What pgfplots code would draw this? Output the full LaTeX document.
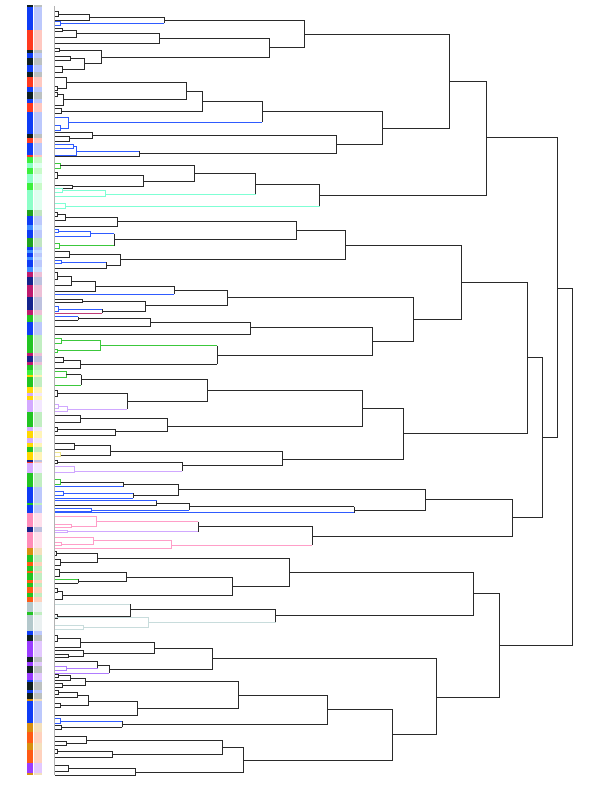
\documentclass[border=0pt]{standalone}
\usepackage{pgfplots}
\pgfplotsset{compat=1.18}

% line colours of the tree
\definecolor{dg}{HTML}{2A2A2A}
\definecolor{bl}{HTML}{2F5BFF}
\definecolor{cy}{HTML}{7FFFD4}
\definecolor{gr}{HTML}{3CC83C}
\definecolor{pk}{HTML}{FF9EC8}
\definecolor{lv}{HTML}{D0A8FF}
\definecolor{pu}{HTML}{B07CFF}
\definecolor{gy}{HTML}{C8DCDC}
\definecolor{yl}{HTML}{F0E68C}
\definecolor{mg}{HTML}{C03C78}
% strip colours
\definecolor{cB}{HTML}{0F3CF5}
\definecolor{cR}{HTML}{FF3A1F}
\definecolor{cK}{HTML}{102020}
\definecolor{cLi}{HTML}{3CF03C}
\definecolor{cMi}{HTML}{8CFFC8}
\definecolor{cDG}{HTML}{1FA21F}
\definecolor{cLB}{HTML}{3C8CFF}
\definecolor{cMg}{HTML}{BE1A6E}
\definecolor{cNv}{HTML}{14238C}
\definecolor{cG}{HTML}{22C422}
\definecolor{cY}{HTML}{FFD800}
\definecolor{cLv}{HTML}{D4AAFF}
\definecolor{cPk}{HTML}{FF8CB9}
\definecolor{cOc}{HTML}{D8900F}
\definecolor{cOr}{HTML}{FF5A14}
\definecolor{cGB}{HTML}{B4C8CC}
\definecolor{cPu}{HTML}{9A3CFF}

% one merge: [colour]{x top child}{y top}{x merge}{x bottom child}{y bottom}
\newcommand{\lk}[6][dg]{\addplot[#1] coordinates {(#2,#3) (#4,#3) (#4,#6) (#5,#6)};}
% merge with own colours: {vertical}{x1}{y1}{xm}{x2}{y2}{top}{bottom}
\newcommand{\lkc}[8]{%
  \addplot[#7] coordinates {(#2,#3) (#4,#3)};
  \addplot[#1] coordinates {(#4,#3) (#4,#6)};
  \addplot[#8] coordinates {(#4,#6) (#5,#6)};}
% one cell of the two label columns
\newcommand{\st}[3]{%
  \addplot[fill=#1,draw=none] coordinates {(27,#2) (32.5,#2) (32.5,#3) (27,#3)};
  \addplot[fill=#1!28,draw=none] coordinates {(34,#2) (42,#2) (42,#3) (34,#3)};}

\begin{document}
\begin{tikzpicture}
\begin{axis}[
  scale only axis, width=600bp, height=786bp,
  xmin=0, xmax=600, ymin=0, ymax=786, y dir=reverse,
  hide axis, clip=false,
  every axis plot/.append style={line width=0.9bp},
]
\addplot[draw=none] coordinates {(0,0) (600,786)};

% ---- label columns
\st{cK}{5}{6.7}
\st{cB}{6.7}{30}
\st{cR}{30}{50}
\st{cK}{50}{53.3}
\st{cB}{53.3}{58}
\st{cK}{58}{65}
\st{cB}{65}{71.7}
\st{cK}{71.7}{77.3}
\st{cR}{77.3}{87.3}
\st{cB}{87.3}{92}
\st{cK}{92}{99}
\st{cB}{99}{103}
\st{cR}{103}{111.7}
\st{cB}{111.7}{134.3}
\st{cK}{134.3}{138.3}
\st{cR}{138.3}{143.3}
\st{cB}{143.3}{155}
\st{cR}{155}{156.7}
\st{cLi}{156.7}{163.3}
\st{cMi}{163.3}{168.3}
\st{cLi}{168.3}{174.3}
\st{cMi}{174.3}{183.3}
\st{cLi}{183.3}{190}
\st{cMi}{190}{210}
\st{cDG}{210}{215.7}
\st{cB}{215.7}{225}
\st{cLB}{225}{230}
\st{cB}{230}{238.3}
\st{cDG}{238.3}{246.7}
\st{cB}{246.7}{250}
\st{cLB}{250}{253.3}
\st{cB}{253.3}{256.7}
\st{cLB}{256.7}{260}
\st{cB}{260}{266.7}
\st{cLB}{266.7}{271.7}
\st{cMg}{271.7}{276.7}
\st{cNv}{276.7}{285}
\st{cMg}{285}{296.7}
\st{cNv}{296.7}{310}
\st{cMg}{310}{315}
\st{cG}{315}{321.7}
\st{cB}{321.7}{335}
\st{cG}{335}{353.3}
\st{cMg}{353.3}{356}
\st{cNv}{356}{361.7}
\st{cMg}{361.7}{365}
\st{cG}{365}{370}
\st{cLi}{370}{375}
\st{cY}{375}{376.7}
\st{cG}{376.7}{386.7}
\st{cY}{386.7}{393}
\st{cLv}{393}{396}
\st{cY}{396}{400}
\st{cLv}{400}{411.7}
\st{cG}{411.7}{426.7}
\st{cLv}{426.7}{431}
\st{cY}{431}{438.3}
\st{cLv}{438.3}{443}
\st{cY}{443}{446.7}
\st{cG}{446.7}{451.7}
\st{cY}{451.7}{460}
\st{cNv}{460}{461.7}
\st{cR}{461.7}{463}
\st{cLv}{463}{473.3}
\st{cG}{473.3}{486.7}
\st{cB}{486.7}{502.5}
\st{cG}{502.5}{505}
\st{cB}{505}{513.3}
\st{cPk}{513.3}{526.7}
\st{cNv}{526.7}{531.7}
\st{cPk}{531.7}{548.3}
\st{cOc}{548.3}{555}
\st{cG}{555}{561.7}
\st{cOr}{561.7}{565.7}
\st{cG}{565.7}{570.7}
\st{cOr}{570.7}{572.7}
\st{cG}{572.7}{580}
\st{cOr}{580}{582.7}
\st{cG}{582.7}{587.3}
\st{cOr}{587.3}{593.3}
\st{cG}{593.3}{596.7}
\st{cOr}{596.7}{601.7}
\st{cGB}{601.7}{611.7}
\st{cG}{611.7}{615}
\st{cGB}{615}{631}
\st{cB}{631}{635}
\st{cK}{635}{641}
\st{cPu}{641}{656.7}
\st{cK}{656.7}{662.3}
\st{cPu}{662.3}{665.7}
\st{cK}{665.7}{673.3}
\st{cPu}{673.3}{680}
\st{cB}{680}{682.3}
\st{cK}{682.3}{690}
\st{cB}{690}{693.3}
\st{cK}{693.3}{699}
\st{cOc}{699}{701}
\st{cB}{701}{723.3}
\st{cOc}{723.3}{731.7}
\st{cOr}{731.7}{743.3}
\st{cOc}{743.3}{750}
\st{cOr}{750}{763.3}
\st{cPu}{763.3}{773.3}
\st{cOc}{773.3}{775}

% leaf stubs
\addplot[gray!60, line width=0.8bp] coordinates {(54.5,6) (54.5,775)};

% ---- top block
\lk{55}{11.7}{58.3}{55}{16.7}
\lk{58.3}{14}{89}{55}{20}
\lk[bl]{55}{21}{60}{55}{25.5}
\lkc{dg}{89}{17.3}{164}{60}{23.3}{dg}{bl}
\lk{55}{28.5}{62}{55}{31.5}
\lk{62}{30}{76}{55}{37.3}
\lk{76}{33.3}{159.5}{55}{43.3}
\lk{55}{48.5}{59.3}{55}{51.5}
\lk{55}{56}{70}{55}{60.7}
\lk{55}{66}{62.7}{55}{72}
\lk{70}{58.3}{84.3}{62.7}{69}
\lk{59.3}{50}{101}{84.3}{63.7}
\lk{159.5}{38.3}{269}{101}{57.3}
\lk{164}{20}{304}{269}{47.3}
\lk{55}{86.5}{57}{55}{90}
\lk{55}{77.3}{66}{57}{88.3}
\lk{55}{92}{57}{55}{96}
\lk{57}{94}{63.3}{55}{105}
\lk{66}{82.7}{186}{63.3}{99.3}
\lk{55}{108.5}{61}{55}{113.5}
\lk{186}{91}{202.7}{61}{111}
\lk[bl]{55}{125.5}{60}{55}{130.5}
\lk[bl]{55}{117.3}{68.3}{60}{128}
\lkc{dg}{202.7}{101.3}{262.3}{68.3}{122.3}{dg}{bl}
\lk{55}{136}{69.3}{55}{141}
\lk{55}{132.3}{92.3}{69.3}{138.3}
\lk[bl]{55}{144.3}{73.3}{55}{148.7}
\lk[bl]{73.3}{146.5}{76}{55}{155.5}
\lkc{dg}{76}{151}{139.3}{55}{156.7}{bl}{dg}
\lk{92.3}{135.3}{336.3}{139.3}{153.3}
\lk{262.3}{111.3}{382.3}{336.3}{144.3}
\lk{304}{34}{449}{382.3}{128}

% ---- mint block
\lk[gr]{55}{163.3}{60}{55}{168.5}
\lk{55}{172.3}{57}{55}{178.3}
\lk{55}{185}{72.7}{55}{188.5}
\lk{57}{175.5}{143.3}{72.7}{186.5}
\lk{60}{165.7}{194}{143.3}{181}
\lk[cy]{55}{188.7}{62}{55}{192.3}
\lk[cy]{62}{190.5}{105.7}{55}{196.7}
\lkc{dg}{194}{173.3}{255.7}{105.7}{194.3}{dg}{cy}
\lk[cy]{55}{203.3}{65}{55}{208.3}
\lkc{dg}{255.7}{184}{319.7}{65}{206.3}{dg}{cy}
\lk{449}{81.3}{486.3}{319.7}{195}

% ---- 210-270
\lk{55}{212}{57}{55}{216}
\lk{57}{214}{65}{55}{220}
\lk{65}{217}{117.7}{55}{226.7}
\lk[bl]{55}{229.5}{58}{55}{232.5}
\lk[bl]{58}{231}{90}{55}{236}
\lk[gr]{55}{243}{59.3}{55}{248}
\lkc{dg}{90}{233.5}{114.3}{59.3}{245.5}{bl}{gr}
\lk{117.7}{221.7}{296.3}{114.3}{239.5}
\lk{55}{251.7}{69.3}{55}{257.3}
\lk[bl]{55}{260.7}{61.7}{55}{263.3}
\lkc{dg}{61.7}{262}{106.7}{55}{268}{bl}{dg}
\lk{69.3}{254.5}{120}{106.7}{265}
\lk{296.3}{230.6}{345.3}{120}{259.3}

% ---- 270-370
\lk{55}{272.7}{57}{55}{279.3}
\lk{57}{276.7}{71}{55}{285.7}
\lk{71}{281}{95}{55}{291}
\lkc{dg}{95}{286}{174}{55}{294.3}{dg}{bl}
\lk{55}{299.3}{82.3}{55}{302.7}
\lk[bl]{55}{306.7}{58.7}{55}{311.7}
\lkc{dg}{58.7}{309}{102.3}{55}{313.3}{bl}{mg}
\lk{82.3}{301}{145}{102.3}{311}
\lk{174}{290}{227}{145}{305.3}
\lkc{dg}{55}{316.7}{78.3}{55}{320}{bl}{dg}
\lk{78.3}{318.3}{150.7}{55}{326.7}
\lk{150.7}{322.3}{250.3}{55}{334.3}
\lk{227}{297.7}{413.3}{372.7}{341}
\lk{250.3}{327.3}{372.7}{217}{355}
\lk[gr]{55}{338.3}{61}{55}{343.3}
\lk[gr]{55}{349}{57}{55}{352}
\lk[gr]{61}{340.7}{100}{57}{350.7}
\lk{55}{357.3}{63.3}{55}{362.7}
\lk{63.3}{360}{80}{55}{368}
\lkc{dg}{100}{345.7}{217}{80}{364}{gr}{dg}
\lk{345.3}{245}{461}{413.3}{319.7}

% ---- 370-470
\lk[gr]{55}{371.7}{66}{55}{377.7}
\lkc{dg}{66}{374.7}{81}{55}{385}{dg}{gr}
\lk{55}{390}{57.3}{55}{396.7}
\lk[lv]{55}{404}{58}{55}{408}
\lk[lv]{58}{406}{67.3}{55}{411}
\lkc{dg}{57.3}{393.3}{127.3}{67.3}{409}{dg}{lv}
\lk{81}{379.3}{207.3}{127.3}{401.7}
\lk{55}{415.7}{80.7}{55}{422.3}
\lk{55}{427}{57}{55}{431}
\lk{57}{429.3}{115.7}{55}{435}
\lk{80.7}{418.3}{167.7}{115.7}{431.7}
\lk{207.3}{390.7}{362.7}{167.7}{426}
\lk{55}{443.3}{74.3}{55}{449}
\lk[yl]{55}{452.3}{60.7}{55}{456.7}
\lk{74.3}{445.7}{110}{60.7}{455.7}
\lk{55}{460.5}{57}{55}{463.5}
\lk[lv]{55}{466.7}{74.3}{55}{472.3}
\lkc{dg}{57}{462.3}{182.3}{74.3}{471}{dg}{lv}
\lk{110}{451.3}{282.3}{182.3}{465.7}
\lk{362.7}{408.3}{403.7}{282.3}{459}
\lk{461}{282.3}{527.3}{403.7}{433.3}

% ---- 470-550
\lk[gr]{55}{479.5}{60.7}{55}{484}
\lkc{dg}{60.7}{482.3}{123.3}{55}{486.7}{dg}{bl}
\lk[bl]{55}{491.7}{63.3}{55}{495}
\lkc{dg}{63.3}{493.3}{133.3}{55}{498.3}{bl}{bl}
\lk{123.3}{484.3}{178.3}{133.3}{495.7}
\lkc{dg}{55}{500.5}{156.7}{55}{505.5}{bl}{dg}
\lk[bl]{55}{508.5}{91.7}{55}{511.5}
\lkc{dg}{156.7}{503}{189.3}{91.7}{510}{dg}{bl}
\lkc{dg}{189.3}{506.7}{354}{55}{512.7}{dg}{bl}
\lk{178.3}{489.7}{425.7}{354}{510}
\lk[pk]{55}{524}{71.7}{55}{527.3}
\lk[pk]{55}{516.7}{96}{71.7}{526}
\lk[lv]{55}{530}{67.3}{55}{532.7}
\lkc{dg}{96}{521.7}{198.3}{67.3}{531.7}{pk}{lv}
\lk[pk]{55}{542.3}{61.7}{55}{545.3}
\lk[pk]{55}{537.3}{93.3}{61.7}{544}
\lk[pk]{93.3}{540.3}{171}{55}{548.3}
\lkc{dg}{198.3}{526.3}{312}{171}{545}{dg}{pk}
\lk{425.7}{499.7}{512.7}{312}{536}
\lk{527.3}{357.3}{542.7}{512.7}{517.3}
\lk{486.3}{137.7}{557}{542.7}{437.7}

% ---- 550-630
\lk{55}{551}{56}{55}{555}
\lk{55}{559.5}{60}{55}{565.5}
\lk{56}{553.3}{97.3}{60}{562.7}
\lk{55}{569.3}{59.3}{55}{576}
\lkc{dg}{55}{579.3}{78.3}{55}{583.3}{gr}{dg}
\lk{59.3}{572.7}{126}{78.3}{581.7}
\lk{55}{588}{57.5}{55}{592}
\lk{57.5}{591.7}{62.7}{55}{599.3}
\lk{126}{577}{232.7}{62.7}{595.3}
\lk{97.3}{558.3}{289}{232.7}{586.7}
\lk{55}{614.7}{57}{55}{618.7}
\lkc{dg}{55}{604}{130}{57}{616.7}{gy}{dg}
\lk[gy]{55}{625}{83.3}{55}{629}
\lk[gy]{55}{617.7}{148.3}{83.3}{627}
\lkc{dg}{130}{609}{275.7}{148.3}{622.3}{dg}{gy}
\lk{289}{572.7}{473.3}{275.7}{615.3}

% ---- 630-775
\lk{55}{635}{57}{55}{641}
\lk{57}{638}{80}{55}{647}
\lk{55}{654.3}{68.3}{55}{657.7}
\lk{55}{650.5}{83.3}{68.3}{656}
\lk{80}{642.5}{154.3}{83.3}{653.3}
\lk[pu]{55}{666.7}{66}{55}{670}
\lkc{dg}{55}{661.7}{97.7}{66}{668.3}{dg}{pu}
\lkc{dg}{97.7}{665}{109}{55}{673.3}{dg}{pu}
\lk{154.3}{648}{212.7}{109}{669.7}
\lk{55}{674}{58}{55}{677}
\lk{58}{675.5}{70}{55}{680.5}
\lk{55}{683}{62}{55}{687}
\lk{70}{678.3}{85.7}{62}{685}
\lk{55}{690}{58}{55}{694.5}
\lk{58}{692.5}{77.3}{55}{697.5}
\lk{55}{703}{60}{55}{707}
\lk{77.3}{695}{88.3}{60}{705}
\lk{88.3}{701}{137.3}{55}{715}
\lk{85.7}{681.7}{238.3}{137.3}{708}
\lk[bl]{55}{718.5}{60}{55}{723}
\lk{55}{725}{61}{55}{729}
\lkc{dg}{60}{721}{122.3}{61}{727}{bl}{dg}
\lk{238.3}{695.3}{327.3}{122.3}{724.7}
\lk{55}{741}{66.7}{55}{745.7}
\lk{55}{736}{86.7}{66.7}{743.3}
\lk{55}{749}{57}{55}{753}
\lk{57}{751}{112.3}{55}{757.7}
\lk{86.7}{740.3}{222.7}{112.3}{754.3}
\lk{55}{765.7}{68.3}{55}{771}
\lk{68.3}{768.3}{135}{55}{775}
\lk{222.7}{747}{243.7}{135}{772}
\lk{327.3}{709.3}{392.7}{243.7}{760}
\lk{212.7}{658.7}{436.7}{392.7}{734.7}
\lk{473.3}{593.7}{499.7}{436.7}{697.3}
\lk{557}{288}{572.3}{499.7}{645}
\end{axis}
\end{tikzpicture}
\end{document}
